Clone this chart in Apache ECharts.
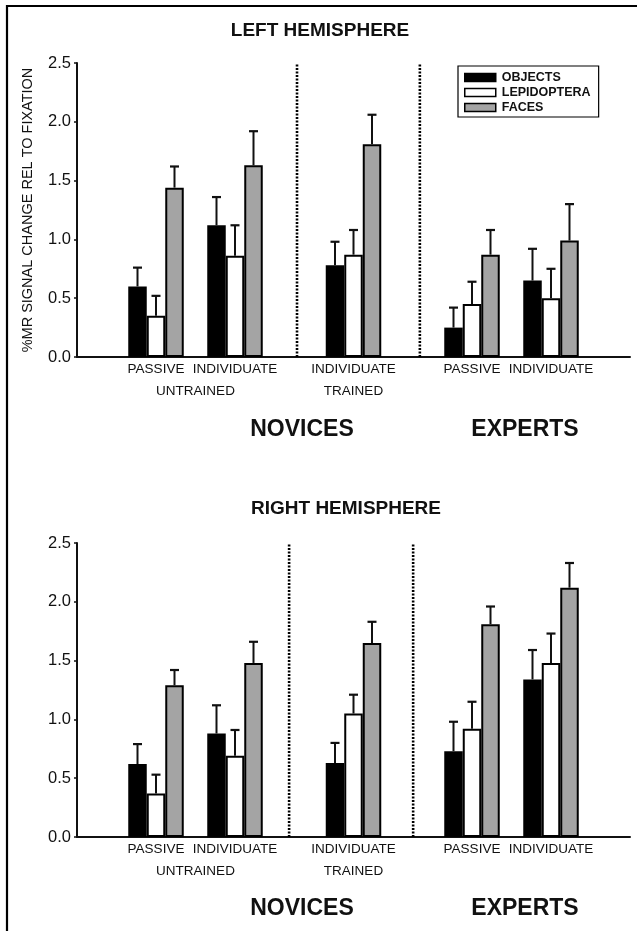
<!DOCTYPE html>
<html><head><meta charset="utf-8">
<script src="https://cdn.jsdelivr.net/npm/echarts@6/dist/echarts.min.js"></script>
<style>html,body{margin:0;padding:0;background:#fff}#c{width:637px;height:931px}</style>
</head><body><div id="c"></div>
<script>
// ---- data ----
const seriesNames = ['OBJECTS', 'LEPIDOPTERA', 'FACES'];
const conditions = ['PASSIVE', 'INDIVIDUATE', 'INDIVIDUATE', 'PASSIVE', 'INDIVIDUATE'];
const trainingLabels = ['UNTRAINED', 'TRAINED'];
const groupLabels = ['NOVICES', 'EXPERTS'];
const yTicks = [0, 0.5, 1.0, 1.5, 2.0, 2.5];

const leftObjects = [0.60, 1.12, 0.78, 0.25, 0.65];
const leftObjectsErr = [0.16, 0.24, 0.20, 0.17, 0.27];
const leftLepid = [0.35, 0.86, 0.87, 0.45, 0.50];
const leftLepidErr = [0.17, 0.26, 0.21, 0.19, 0.25];
const leftFaces = [1.44, 1.63, 1.81, 0.87, 0.99];
const leftFacesErr = [0.18, 0.29, 0.25, 0.21, 0.31];

const rightObjects = [0.62, 0.88, 0.63, 0.73, 1.34];
const rightObjectsErr = [0.17, 0.24, 0.17, 0.25, 0.25];
const rightLepid = [0.37, 0.69, 1.05, 0.92, 1.48];
const rightLepidErr = [0.16, 0.22, 0.16, 0.23, 0.25];
const rightFaces = [1.29, 1.48, 1.65, 1.81, 2.12];
const rightFacesErr = [0.13, 0.18, 0.18, 0.15, 0.21];

// ---- layout (axis slots) ----
const NSLOTS = 15;
const slots = [2, 4, 7, 10, 12];
const untrainedSlot = 3;
const sepLeft = [5.57, 8.68];
const sepRight = [5.37, 8.51];

const BAR_W = 18.5;
const FONT = '"Liberation Sans", Arial, Helvetica, sans-serif';
const colors = ['#000000', '#ffffff', '#a4a4a4'];

const catIds = Array.from({length: NSLOTS}, (_, i) => 's' + i);
const catLabels = Array(NSLOTS).fill('');
slots.forEach((s, i) => { catLabels[s] = conditions[i]; });
catLabels[untrainedSlot] = '\n' + trainingLabels[0];
catLabels[slots[2]] = conditions[2] + '\n' + trainingLabels[1];

function slotData(vals) {
  const arr = Array(NSLOTS).fill('-');
  slots.forEach((s, i) => { arr[s] = vals[i]; });
  return arr;
}
function errData(vals, errs) {
  return slots.map((s, i) => [s, vals[i], vals[i] + errs[i]]);
}
function errRender(k) {
  return function (params, api) {
    const x = api.value(0), v = api.value(1), hi = api.value(2);
    const p0 = api.coord([x, v]);
    const p1 = api.coord([x, hi]);
    const cx = p0[0] + (k - 1) * BAR_W;
    return {
      type: 'group',
      children: [
        {type: 'line', shape: {x1: cx, y1: p0[1], x2: cx, y2: p1[1]}, style: {stroke: '#111', lineWidth: 2}},
        {type: 'line', shape: {x1: cx - 4.5, y1: p1[1], x2: cx + 4.5, y2: p1[1]}, style: {stroke: '#111', lineWidth: 2.2}}
      ]
    };
  };
}

const panels = [
  {vals: [leftObjects, leftLepid, leftFaces], errs: [leftObjectsErr, leftLepidErr, leftFacesErr], seps: sepLeft, top: 63},
  {vals: [rightObjects, rightLepid, rightFaces], errs: [rightObjectsErr, rightLepidErr, rightFacesErr], seps: sepRight, top: 543}
];

const grid = [], xAxis = [], yAxis = [], series = [];
panels.forEach((p, gi) => {
  grid.push({left: 77, width: 553, top: p.top, height: 294});
  xAxis.push({
    type: 'category', gridIndex: gi, data: catIds, boundaryGap: false,
    axisLine: {lineStyle: {color: '#111', width: 2}},
    axisTick: {show: false},
    axisLabel: {interval: 0, margin: 2, formatter: (v, idx) => catLabels[idx],
      fontFamily: FONT, fontSize: 13.5, lineHeight: 21.5, color: '#111', verticalAlign: 'top'}
  });
  xAxis.push({type: 'value', gridIndex: gi, min: 0, max: NSLOTS - 1, show: false});
  yAxis.push({
    type: 'value', gridIndex: gi, min: yTicks[0], max: yTicks[yTicks.length - 1], interval: 0.5,
    name: gi === 0 ? '%MR SIGNAL CHANGE REL TO FIXATION' : '',
    nameLocation: 'middle', nameGap: 42, nameRotate: 90,
    nameTextStyle: {fontFamily: FONT, fontSize: 14.5, color: '#111'},
    axisLine: {show: true, lineStyle: {color: '#111', width: 2}},
    axisTick: {show: true, length: 3, lineStyle: {color: '#111', width: 1.5}},
    axisLabel: {margin: 6, formatter: v => v.toFixed(1), fontFamily: FONT, fontSize: 16.5, color: '#111'},
    splitLine: {show: false}
  });
  p.vals.forEach((vals, k) => {
    series.push({
      name: seriesNames[k], type: 'bar', xAxisIndex: gi * 2, yAxisIndex: gi,
      data: slotData(vals), barWidth: BAR_W, barGap: '0%',
      itemStyle: {color: colors[k], borderColor: '#000', borderWidth: k === 0 ? 0 : 2},
      emphasis: {disabled: true}, animation: false
    });
  });
  p.vals.forEach((vals, k) => {
    series.push({
      type: 'custom', xAxisIndex: gi * 2, yAxisIndex: gi, z: 5,
      data: errData(vals, p.errs[k]), renderItem: errRender(k),
      encode: {x: 0, y: 1}, animation: false, silent: true
    });
  });
  p.seps.forEach(s => {
    series.push({
      type: 'line', xAxisIndex: gi * 2 + 1, yAxisIndex: gi, symbol: 'none', silent: true, animation: false,
      data: [[s, 0], [s, 2.5]],
      lineStyle: {color: '#000', width: 2.6, type: [2, 1.5]}
    });
  });
});

const graphic = [
  {type: 'line', shape: {x1: 7, y1: 5, x2: 7, y2: 931}, style: {stroke: '#000', lineWidth: 2.2}},
  {type: 'line', shape: {x1: 6, y1: 6, x2: 637, y2: 6}, style: {stroke: '#000', lineWidth: 2.2}},
  {type: 'text', x: 320, y: 31, style: {text: 'LEFT HEMISPHERE', font: 'bold 19px ' + FONT, fill: '#111', textAlign: 'center', textVerticalAlign: 'middle'}},
  {type: 'text', x: 346, y: 509, style: {text: 'RIGHT HEMISPHERE', font: 'bold 19px ' + FONT, fill: '#111', textAlign: 'center', textVerticalAlign: 'middle'}},
  {type: 'text', x: 302, y: 430, style: {text: groupLabels[0], font: 'bold 23px ' + FONT, fill: '#111', textAlign: 'center', textVerticalAlign: 'middle'}},
  {type: 'text', x: 525, y: 430, style: {text: groupLabels[1], font: 'bold 23px ' + FONT, fill: '#111', textAlign: 'center', textVerticalAlign: 'middle'}},
  {type: 'text', x: 302, y: 909, style: {text: groupLabels[0], font: 'bold 23px ' + FONT, fill: '#111', textAlign: 'center', textVerticalAlign: 'middle'}},
  {type: 'text', x: 525, y: 909, style: {text: groupLabels[1], font: 'bold 23px ' + FONT, fill: '#111', textAlign: 'center', textVerticalAlign: 'middle'}}
];

const chart = echarts.init(document.getElementById('c'), null, {renderer: 'canvas'});
chart.setOption({
  animation: false,
  backgroundColor: '#fff',
  grid, xAxis, yAxis, series, graphic,
  legend: {
    data: seriesNames, orient: 'vertical', left: 458, top: 66,
    icon: 'rect', itemWidth: 31, itemHeight: 8, itemGap: 0,
    padding: [4, 8, 2, 6], borderColor: '#000', borderWidth: 1.2,
    itemStyle: {borderColor: '#000', borderWidth: 1.5},
    selectedMode: false,
    textStyle: {fontFamily: FONT, fontWeight: 'bold', fontSize: 12.5, lineHeight: 15, color: '#111', padding: [0, 0, 0, 1]}
  }
});
</script></body></html>
